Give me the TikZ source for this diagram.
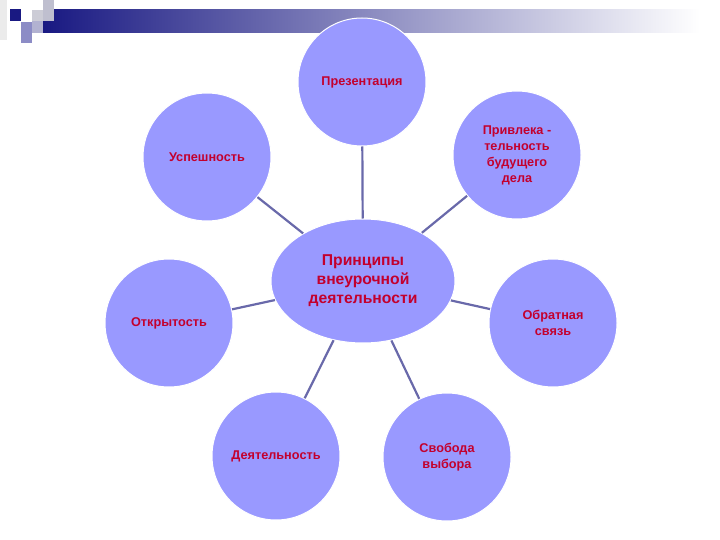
\documentclass[tikz,border=0pt]{standalone}
\usepackage{fontspec}
\setmainfont{Liberation Sans}
\usepackage{tikz}
\usetikzlibrary{shapes.geometric, positioning}
\definecolor{Periwinkle}{RGB}{153,153,255}
\definecolor{Crimson}{RGB}{195,0,45}
\definecolor{SlateLine}{RGB}{105,105,170}
\definecolor{NavyBar}{RGB}{25,25,130}

\begin{document}
\begin{tikzpicture}[x=1pt, y=-1pt,
  topic/.style={circle, fill=Periwinkle, draw=white, line width=1pt,
                minimum size=128pt, inner sep=0pt, align=center,
                text=Crimson, font=\fontsize{12.7}{16}\selectfont\bfseries},
  core/.style={ellipse, fill=Periwinkle, draw=white, line width=1pt,
               minimum width=184pt, minimum height=124pt, inner sep=0pt,
               align=center, text=Crimson,
               font=\fontsize{15.7}{19}\selectfont\bfseries},
  link/.style={SlateLine, line width=2.2pt},
]
\useasboundingbox (0,0) rectangle (720,540);

% header bar and corner squares
\shade[left color=NavyBar, right color=white] (43,10) rectangle (700,33);
\fill[black!8] (0,0) rectangle (7,40);
\fill[NavyBar] (10,9) rectangle (21,21);
\fill[blue!20!black!20] (32,10) rectangle (43,21);
\fill[blue!25!black!25] (43,0) rectangle (54,21);
\fill[blue!40!black!30] (32,21) rectangle (43,33);
\fill[blue!50!black!45] (21,22) rectangle (32,43);

% principles
\node[core] (ctr) at (363,281) {Принципы\\внеурочной\\деятельности};

\node[topic] (pres) at (362,82) {Презентация};
\node[topic] (succ) at (207,157) {Успешность};
\node[topic] (attr) at (517,155) {Привлека -\\тельность\\будущего\\дела};
\node[topic] (open) at (169,323) {Открытость};
\node[topic] (feed) at (553,323) {Обратная\\связь};
\node[topic] (act) at (276,456) {Деятельность};
\node[topic] (free) at (447,457) {Свобода\\выбора};

\draw[link] (ctr) -- (pres);
\draw[link] (ctr) -- (succ);
\draw[link] (ctr) -- (attr);
\draw[link] (ctr) -- (open);
\draw[link] (ctr) -- (feed);
\draw[link] (ctr) -- (act);
\draw[link] (ctr) -- (free);
\end{tikzpicture}
\end{document}
